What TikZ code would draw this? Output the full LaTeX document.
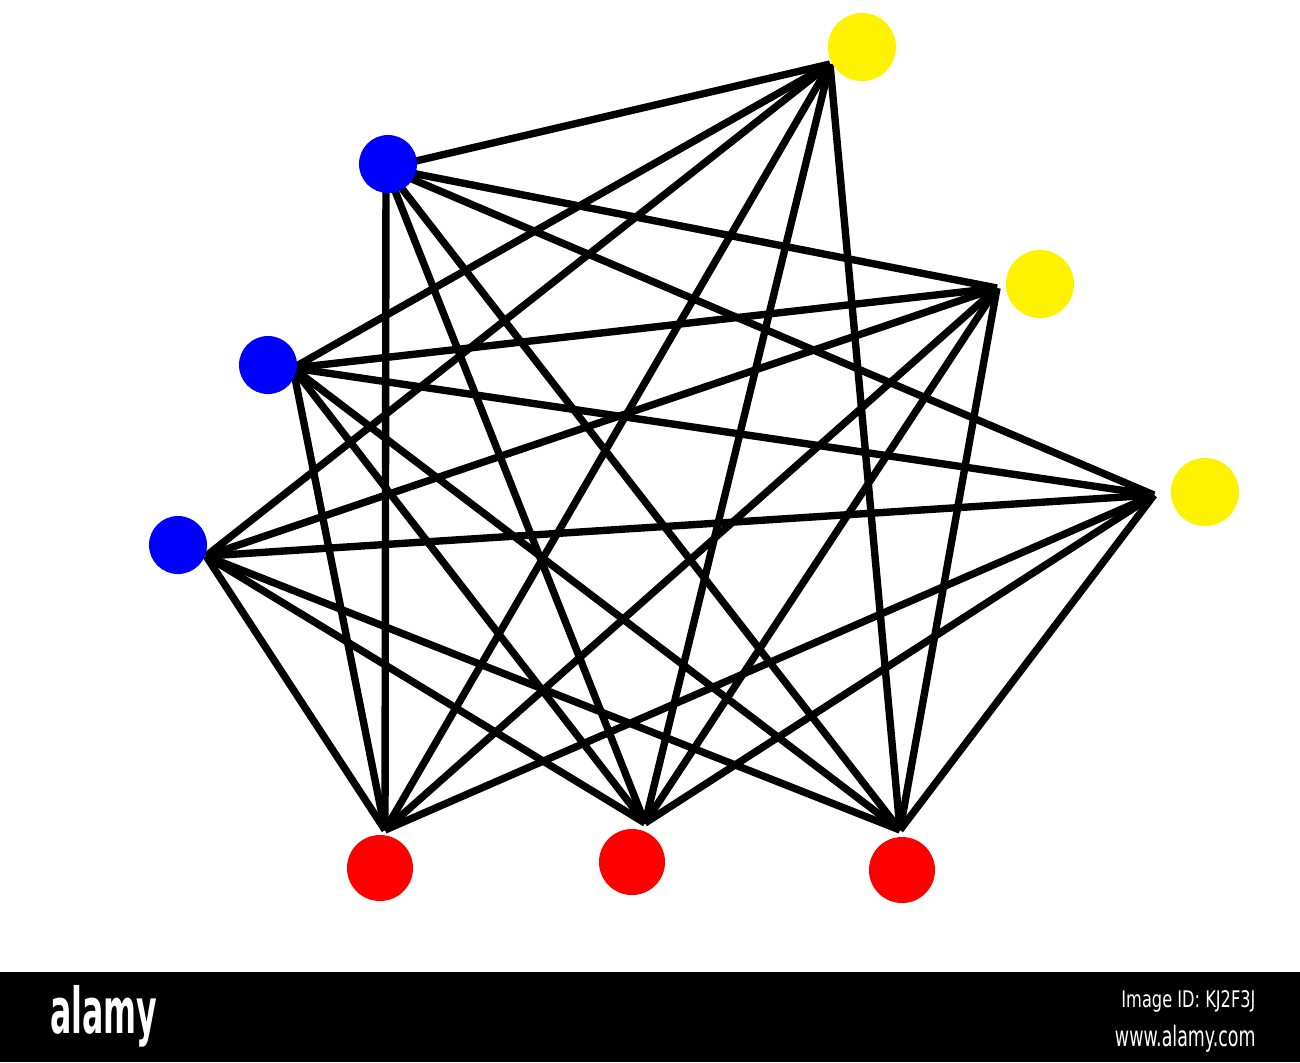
\documentclass[tikz,border=0pt]{standalone}
\usepackage{fontspec}
\setmainfont{DejaVu Sans}
\usetikzlibrary{positioning}
\begin{document}
\begin{tikzpicture}[x=0.01cm,y=-0.01cm]
\tikzstyle{link}=[line width=2.1pt,black]
\tikzstyle{dot}=[circle,inner sep=0pt,draw=none]
\tikzstyle{bluedot}=[dot,fill=blue,minimum size=0.58cm]
\tikzstyle{yellowdot}=[dot,fill=yellow,minimum size=0.68cm]
\tikzstyle{reddot}=[dot,fill=red,minimum size=0.66cm]
\tikzstyle{bartext}=[text=white,inner sep=0pt]

\useasboundingbox (0,0) rectangle (1300,1062);
\fill[white] (0,0) rectangle (1300,1062);

% where the edges meet
\coordinate (b1) at (386,168);
\coordinate (b2) at (293,368);
\coordinate (b3) at (206,556);
\coordinate (y1) at (830,64);
\coordinate (y2) at (997,288);
\coordinate (y3) at (1154,495);
\coordinate (r1) at (385,830);
\coordinate (r2) at (645,823);
\coordinate (r3) at (900,830);

% every part joined to the other two
\foreach \u in {b1,b2,b3}
  \foreach \v in {y1,y2,y3,r1,r2,r3}
    \draw[link] (\u) -- (\v);
\foreach \u in {y1,y2,y3}
  \foreach \v in {r1,r2,r3}
    \draw[link] (\u) -- (\v);

\node[bluedot] (B1) at (388,164) {};
\node[bluedot] (B2) at (268,365) {};
\node[bluedot] (B3) at (178,545) {};
\node[yellowdot] (Y1) at (862,47) {};
\node[yellowdot] (Y2) at (1040,284) {};
\node[yellowdot] (Y3) at (1205,492) {};
\node[reddot] (R1) at (380,868) {};
\node[reddot] (R2) at (632,862) {};
\node[reddot] (R3) at (902,870) {};

% bottom strip
\fill[black] (0,972) rectangle (1300,1062);
\node[bartext,anchor=west,font=\bfseries\fontsize{18}{18}\selectfont,xscale=0.5] (logo) at (50,1016) {alamy};
\node[bartext,anchor=east,font=\fontsize{6.5}{7}\selectfont,xscale=0.71] (imgid) at (1256,1001) {Image ID: KJ2F3J};
\node[bartext,font=\fontsize{8}{9}\selectfont,xscale=0.62] (url) [below=0.12cm of imgid.south east,anchor=north east] {www.alamy.com};
\end{tikzpicture}
\end{document}
